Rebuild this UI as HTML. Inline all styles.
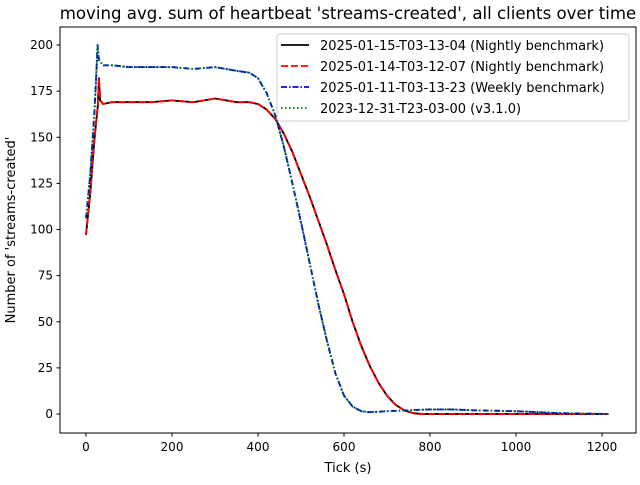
<!DOCTYPE html>
<html><head><meta charset="utf-8"><style>
body{margin:0;background:#fff;}
svg text{font-family:"DejaVu Sans","Liberation Sans",sans-serif;}
</style></head><body>
<svg id="chart" width="640" height="480" xmlns="http://www.w3.org/2000/svg">
<rect width="640" height="480" fill="#fff"/>
<text x="348" y="19" font-size="16.6" text-anchor="middle">moving avg. sum of heartbeat 'streams-created', all clients over time</text>
<g id="axes"></g>
<g id="series"></g>
<rect x="60" y="27" width="576" height="406" fill="none" stroke="#000" stroke-width="1"/>
<g>
<rect x="277" y="34" width="352" height="87" rx="3" fill="#fff" fill-opacity="0.8" stroke="#ccc"/>
<line x1="281" y1="45" x2="309" y2="45" stroke="#000" stroke-width="1.8"/>
<text x="320" y="50" font-size="13">2025-01-15-T03-13-04 (Nightly benchmark)</text>
<line x1="281" y1="66" x2="309" y2="66" stroke="#f00" stroke-width="1.8" stroke-dasharray="7,3"/>
<text x="320" y="71" font-size="13">2025-01-14-T03-12-07 (Nightly benchmark)</text>
<line x1="281" y1="87" x2="309" y2="87" stroke="#00f" stroke-width="1.8" stroke-dasharray="6,2,1.5,2"/>
<text x="320" y="92" font-size="13">2025-01-11-T03-13-23 (Weekly benchmark)</text>
<line x1="281" y1="108" x2="309" y2="108" stroke="#008000" stroke-width="1.8" stroke-dasharray="1.5,2.5"/>
<text x="320" y="113" font-size="13">2023-12-31-T23-03-00 (v3.1.0)</text>
</g>
</svg>
<script>
const xTicks=[0,200,400,600,800,1000,1200];
const yTicks=[0,25,50,75,100,125,150,175,200];
const nightlyX=[0,10,20,28,30,33,40,60,100,150,200,250,300,350,380,400,420,440,460,480,500,520,540,560,580,600,620,640,660,680,700,720,740,760,780,800,1000,1215];
const nightlyY=[97,120,150,168,182,170,168,169,169,169,170,169,171,169,169,168,165,160,152,142,130,118,105,92,78,65,50,37,26,17,10,5,2,0.5,0,0,0,0];
const weeklyX=[0,10,20,25,27,30,40,60,100,150,200,250,300,350,380,400,420,440,460,480,500,520,540,560,580,600,620,640,660,700,750,800,850,900,1000,1100,1215];
const weeklyY=[106,130,165,190,200,192,189,189,188,188,188,187,188,186,185,182,174,162,145,125,104,82,60,40,22,10,4,1.5,1,1.5,2,2.5,2.5,2,1.5,0.5,0];
const sx=v=>86+v*0.43;
const sy=v=>414-v*1.845;
const NS="http://www.w3.org/2000/svg";
const ax=document.getElementById('axes');
function mk(tag,attrs,parent){const e=document.createElementNS(NS,tag);for(const k in attrs)e.setAttribute(k,attrs[k]);parent.appendChild(e);return e;}
xTicks.forEach(t=>{
 const l=mk('line',{x1:sx(t),x2:sx(t),y1:433,y2:436.5,stroke:'#000'},ax);
 
 
 const tx=mk('text',{x:sx(t),y:451,'font-size':'12','text-anchor':'middle'},ax);tx.textContent=t;
 
 
});
yTicks.forEach(t=>{
 const l=mk('line',{x1:56.5,x2:60,y1:sy(t),y2:sy(t),stroke:'#000'},ax);
 
 
 const tx=mk('text',{x:53,y:sy(t)+4,'font-size':'12','text-anchor':'end'},ax);tx.textContent=t;
 
 
});
const xt=mk('text',{x:348,y:472,'font-size':'13','text-anchor':'middle'},ax);xt.textContent='Tick (s)';


const yt=mk('text',{x:15,y:230,'font-size':'13','text-anchor':'middle',transform:'rotate(-90 15 230)'},ax);yt.textContent="Number of 'streams-created'";


const sg=document.getElementById('series');
function path(xs,ys){return xs.map((x,i)=>(i?'L':'M')+sx(x).toFixed(1)+','+sy(ys[i]).toFixed(1)).join(' ');}
const defs=[
 [nightlyX,nightlyY,'#000','','series-nightly-0115'],
 [nightlyX,nightlyY,'#f00','7,3','series-nightly-0114'],
 [weeklyX,weeklyY,'#00f','6,2,1.5,2','series-weekly-0111'],
 [weeklyX,weeklyY,'#008000','1.5,2.5','series-v310']
];
defs.forEach(d=>{
 const p=mk('path',{d:path(d[0],d[1]),fill:'none',stroke:d[2],'stroke-width':'1.9','stroke-dasharray':d[3]||'none','stroke-linejoin':'round'},sg);
 
 
});
</script>
</body></html>
